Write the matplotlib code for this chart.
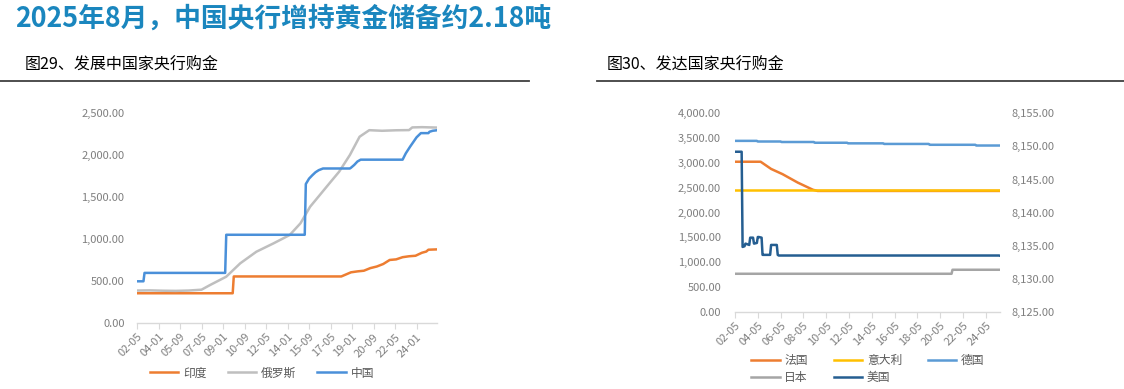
import matplotlib
matplotlib.use("Agg")
import matplotlib.pyplot as plt
from matplotlib.ticker import FuncFormatter
from matplotlib.lines import Line2D

plt.rcParams['font.family'] = ['Noto Sans CJK SC', 'DejaVu Sans']

# ---- data (tonnes), monthly axis starting 2002-05 ----
start_year, start_month = 2002, 5

# fig 29 : developing countries
china_dates = ['2002-05', '2002-11', '2002-12', '2009-03', '2009-04', '2015-05', '2015-06',
               '2015-09', '2015-12', '2016-03', '2016-06', '2016-10', '2018-11', '2018-12',
               '2019-03', '2019-06', '2019-09', '2022-12', '2023-03', '2023-07', '2024-01',
               '2024-05', '2024-12', '2025-01', '2025-04', '2025-08']
china_vals = [500, 500, 600, 600, 1054, 1054, 1658,
              1722, 1762, 1798, 1823, 1843, 1843, 1852,
              1885, 1926, 1948, 1948, 2024, 2103, 2214,
              2264, 2264, 2280, 2292, 2298]

russia_dates = ['2002-05', '2003-05', '2004-05', '2005-05', '2006-05', '2007-05', '2008-01',
                '2009-04', '2010-05', '2011-08', '2012-12', '2014-03', '2015-01', '2015-10',
                '2016-07', '2017-04', '2018-01', '2018-11', '2019-08', '2020-05', '2021-05',
                '2022-06', '2023-06', '2023-09', '2024-06', '2025-08']
russia_vals = [390, 392, 388, 386, 390, 400, 456,
               555, 714, 852, 952, 1051, 1190, 1388,
               1527, 1667, 1805, 2004, 2221, 2299, 2292,
               2298, 2300, 2332, 2335, 2330]

india_dates = ['2002-05', '2009-10', '2009-11', '2018-03', '2018-12', '2019-06', '2019-12',
               '2020-06', '2020-12', '2021-06', '2021-12', '2022-06', '2022-12', '2023-06',
               '2023-12', '2024-06', '2024-10', '2024-12', '2025-08']
india_vals = [357.7, 357.7, 557.7, 557.7, 607, 618, 626,
              657, 676, 706, 754, 761, 787, 798,
              804, 840, 854, 876, 880]

# fig 30 : developed countries
france_dates = ['2002-05', '2004-08', '2005-07', '2006-07', '2007-11', '2009-03', '2009-08', '2025-08']
france_vals = [3025, 3025, 2880, 2775, 2605, 2460, 2436, 2436]

italy_dates = ['2002-05', '2025-08']
italy_vals = [2451.8, 2451.8]

germany_dates = ['2002-05', '2004-04', '2004-05', '2006-05', '2006-06', '2009-04', '2009-05',
                 '2012-03', '2012-04', '2015-05', '2015-06', '2019-05', '2019-06',
                 '2023-06', '2023-07', '2025-08']
germany_vals = [3446, 3446, 3433, 3433, 3423, 3423, 3408,
                3408, 3396, 3396, 3384, 3384, 3367,
                3367, 3352, 3352]

japan_dates = ['2002-05', '2021-05', '2021-06', '2025-08']
japan_vals = [765.2, 765.2, 846.0, 846.0]

# USA on secondary axis
us_dates = ['2002-05', '2002-12', '2003-01', '2003-03', '2003-04', '2003-08', '2003-09', '2003-12',
            '2004-01', '2004-04', '2004-05', '2004-06', '2004-09', '2004-10', '2004-11', '2005-06',
            '2005-07', '2006-01', '2006-02', '2006-03', '2025-06', '2025-07', '2025-08']
us_vals = [8149.2, 8149.2, 8134.8, 8134.9, 8135.3, 8135.1, 8136.2, 8136.2,
           8135.3, 8135.4, 8136.3, 8136.3, 8136.2, 8133.6, 8133.6, 8133.6,
           8135.1, 8135.1, 8133.6, 8133.5, 8133.5, 8133.5, 8133.46]

left_tick_step = 20
right_tick_step = 24
n_months = 280


def month_idx(s):
    y, m = s.split('-')
    return (int(y) - start_year) * 12 + (int(m) - start_month)


def tick_label(i):
    total = start_month - 1 + i
    y = start_year + total // 12
    m = total % 12 + 1
    return '{:02d}-{:02d}'.format(y % 100, m)


def xs(dates):
    return [month_idx(d) for d in dates]


GREY_TXT = '#7F7F7F'
AX_LINE = '#D9D9D9'


def style_axis(ax, step, ylim, yfmt, ypad):
    ax.set_xlim(0, n_months - 1)
    ax.set_ylim(*ylim)
    for s in ['top', 'right', 'left']:
        ax.spines[s].set_visible(False)
    ax.spines['bottom'].set_color(AX_LINE)
    ax.spines['bottom'].set_linewidth(1.0)
    ticks = list(range(0, n_months - 1, step))
    ax.set_xticks(ticks)
    ax.set_xticklabels([tick_label(t) for t in ticks], rotation=45, ha='right',
                       rotation_mode='anchor', fontsize=8, color=GREY_TXT)
    ax.tick_params(axis='x', length=4, color=AX_LINE, pad=2)
    ax.tick_params(axis='y', length=0, labelsize=8, labelcolor=GREY_TXT, pad=ypad)
    ax.yaxis.set_major_formatter(FuncFormatter(yfmt))
    ax.patch.set_visible(False)


fmt = lambda v, p: '{:,.2f}'.format(v)

fig = plt.figure(figsize=(11.24, 3.89), dpi=100)

# title and sub-headers
fig.text(15 / 1124, 1 - 19 / 389, '2025年8月，中国央行增持黄金储备约2.18吨', fontsize=19.3,
         fontweight='bold', color='#1A86BE', va='center', ha='left')
fig.text(25 / 1124, 1 - 65 / 389, '图29、发展中国家央行购金', fontsize=11.5, color='black',
         va='center', ha='left')
fig.text(607 / 1124, 1 - 65 / 389, '图30、发达国家央行购金', fontsize=11.5, color='black',
         va='center', ha='left')
fig.add_artist(Line2D([0, 529 / 1124], [1 - 81 / 389] * 2, color='#404040', lw=1.3))
fig.add_artist(Line2D([597 / 1124, 1], [1 - 81 / 389] * 2, color='#404040', lw=1.3))

# ---- left chart ----
ax1 = fig.add_axes([137 / 1124, 1 - 323.3 / 389, 300 / 1124, 210 / 389])
lw = 1.8
ax1.plot(xs(india_dates), india_vals, color='#ED7D31', lw=lw, label='印度')
ax1.plot(xs(russia_dates), russia_vals, color='#BFBFBF', lw=lw, label='俄罗斯')
ax1.plot(xs(china_dates), china_vals, color='#4A90D9', lw=lw, label='中国')
style_axis(ax1, left_tick_step, (0, 2500), fmt, 9)
ax1.set_yticks([0, 500, 1000, 1500, 2000, 2500])
h, l = ax1.get_legend_handles_labels()
fig.legend(h, l, loc='center', bbox_to_anchor=(262 / 1124, 1 - 373 / 389), ncol=3,
           frameon=False, fontsize=8.5, handlelength=2.4, handletextpad=0.4,
           columnspacing=1.8, labelcolor='#595959')

# ---- right chart ----
ax2 = fig.add_axes([735 / 1124, 1 - 311.7 / 389, 265 / 1124, 198.3 / 389])
ax3 = ax2.twinx()
l_fr, = ax2.plot(xs(france_dates), france_vals, color='#ED7D31', lw=lw, label='法国')
l_it, = ax2.plot(xs(italy_dates), italy_vals, color='#FFC000', lw=lw, label='意大利')
l_de, = ax2.plot(xs(germany_dates), germany_vals, color='#5B9BD5', lw=lw, label='德国')
l_jp, = ax2.plot(xs(japan_dates), japan_vals, color='#A5A5A5', lw=lw, label='日本')
l_us, = ax3.plot(xs(us_dates), us_vals, color='#255E91', lw=lw, label='美国')
style_axis(ax2, right_tick_step, (0, 4000), fmt, 10)
ax2.set_yticks(range(0, 4001, 500))
ax3.set_ylim(8125, 8155)
ax3.set_yticks(range(8125, 8156, 5))
for s in ['top', 'right', 'left', 'bottom']:
    ax3.spines[s].set_visible(False)
ax3.tick_params(axis='y', length=0, labelsize=8, labelcolor=GREY_TXT, pad=8)
ax3.yaxis.set_major_formatter(FuncFormatter(fmt))

fig.legend([l_fr, l_jp, l_it, l_us, l_de], ['法国', '日本', '意大利', '美国', '德国'],
           loc='center', bbox_to_anchor=(868 / 1124, 1 - 369 / 389), ncol=3,
           frameon=False, fontsize=8.5, handlelength=2.4, handletextpad=0.4,
           columnspacing=2.2, labelspacing=0.3, labelcolor='#595959')

fig.savefig('out.png', dpi=100)
